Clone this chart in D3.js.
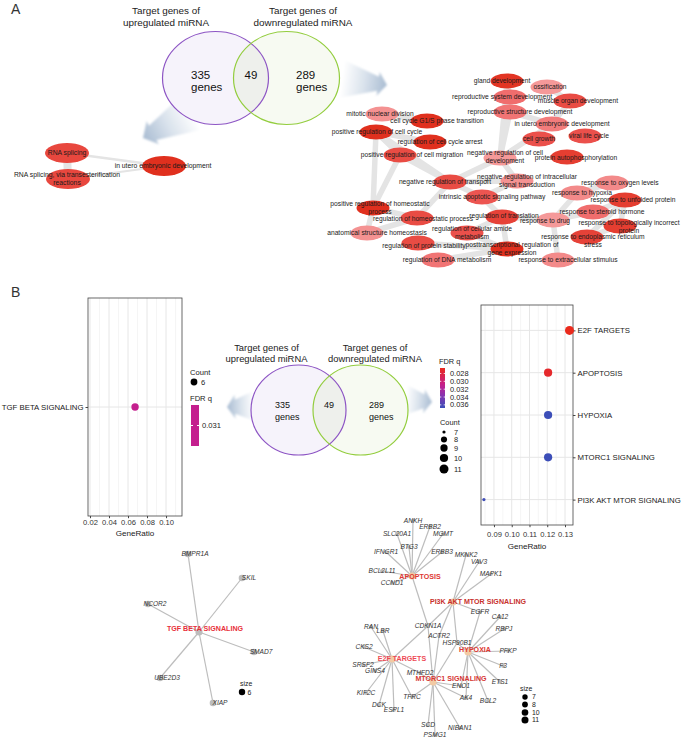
<!DOCTYPE html>
<html><head><meta charset="utf-8">
<script src="https://cdn.jsdelivr.net/npm/d3@7"></script>
<style>body{margin:0;background:#fff}svg{display:block}</style>
</head><body><script>
// ---------------- DATA ----------------
const vennTitleUp = ["Target genes of", "upregulated miRNA"];
const vennTitleDown = ["Target genes of", "downregulated miRNA"];
const vennCounts = [335, 49, 289];

// Panel A enrichment-map networks (layout units relative to each panel origin)
const aLeftNodes = [
  // name, x, y, labelX, labelY, score
  ["RNA splicing", 67, 43, 67, 43, 0.75],
  ["RNA splicing, via transesterification\nreactions", 68, 69, 67, 68.5, 0.75],
  ["in utero embryonic development", 164, 56, 163, 56, 1.0]
];
const aLeftEdges = [[0, 1, 8], [0, 2, 2.5], [1, 2, 2]];

const aRightNodes = [
  ["gland development", 207, 46, 202, 46, 0.95],
  ["ossification", 247, 52, 250, 52, 0.1],
  ["reproductive system development", 210, 62, 202, 62, 0.4],
  ["muscle organ development", 270, 66, 278, 66, 0.7],
  ["reproductive structure development", 210, 77, 220, 77, 0.35],
  ["in utero embryonic development", 252, 89, 262, 89, 0.3],
  ["cell growth", 239, 104, 239, 104, 0.65],
  ["viral life cycle", 285, 101, 289, 101, 0.65],
  ["mitotic nuclear division", 82, 79, 80, 79, 0.15],
  ["cell cycle G1/S phase transition", 127, 86, 137, 86, 1.0],
  ["positive regulation of cell cycle", 76, 97, 77, 97, 1.0],
  ["regulation of cell cycle arrest", 130, 107, 140, 107, 1.0],
  ["positive regulation of cell migration", 100, 120, 112, 120, 0.7],
  ["negative regulation of cell\ndevelopment", 200, 123, 205, 122, 0.1],
  ["protein autophosphorylation", 267, 122, 276, 123, 0.85],
  ["negative regulation of transport", 150, 147, 145, 147, 0.7],
  ["negative regulation of intracellular\nsignal transduction", 217, 146, 227, 145.5, 0.15],
  ["intrinsic apoptotic signaling pathway", 182, 162, 192, 162, 0.6],
  ["response to oxygen levels", 312, 148, 320, 148, 0.2],
  ["response to hypoxia", 277, 158, 282, 158, 0.2],
  ["response to unfolded protein", 325, 165, 333, 165, 0.85],
  ["positive regulation of homeostatic\nprocess", 73, 173, 80, 173, 1.0],
  ["response to steroid hormone", 293, 177, 302, 177, 0.4],
  ["regulation of translation", 202, 182, 204, 180.5, 0.8],
  ["regulation of homeostatic process", 117, 183, 123, 184, 0.7],
  ["response to drug", 253, 185, 245, 186, 0.1],
  ["response to topologically incorrect\nprotein", 320, 191, 329, 192, 0.85],
  ["anatomical structure homeostasis", 67, 198, 77, 198, 0.15],
  ["regulation of cellular amide\nmetabolism", 167, 198, 172, 198, 0.65],
  ["response to endoplasmic reticulum\nstress", 287, 202, 293, 206, 0.8],
  ["regulation of protein stability", 118, 208, 124, 211, 0.7],
  ["posttranscriptional regulation of\ngene expression", 207, 214, 212, 214, 1.0],
  ["regulation of DNA metabolism", 138, 225, 147, 225, 0.35],
  ["response to extracellular stimulus", 258, 225, 268, 225, 0.2]
];
const aRightEdges = [
  [0,2],[2,4],[1,3],[3,5],[4,5],[0,4],[13,4],[13,2],[13,0],[13,5],
  [8,9],[10,11],[10,21],[10,12],[10,15],[12,15],[12,21],[15,16],[13,16],[13,15],
  [15,17],[16,17],[21,24],[21,27],[24,27],[24,15],[23,28],[23,31],[28,31],[30,31],
  [19,18],[20,26],[26,29],[20,29],[25,22],[19,25],[23,25],[33,25],[22,20],[32,31],[17,23]
];

// Panel B dot plots
const upTerms = ["TGF BETA SIGNALING"];
const upRatio = [6 / 89];
const upFDR = [0.031];
const upCount = [6];
const upTicks = [0.02, 0.04, 0.06, 0.08, 0.10];
const upFdrTicks = [0.031];

const downTerms = ["E2F TARGETS", "APOPTOSIS", "HYPOXIA", "MTORC1 SIGNALING", "PI3K AKT MTOR SIGNALING"];
const downRatio = [11 / 83, 10 / 83, 10 / 83, 10 / 83, 7 / 83];
const downFDR = [0.0266, 0.0272, 0.0367, 0.0367, 0.0366];
const downCount = [11, 10, 10, 10, 7];
const downTicks = [0.09, 0.10, 0.11, 0.12, 0.13];
const downFdrTicks = [0.028, 0.030, 0.032, 0.034, 0.036];
const downCountTicks = [7, 8, 9, 10, 11];

// Panel B gene-concept networks
const tgfCategory = ["TGF BETA SIGNALING", 99, 92, 105, 89, "#e8303a"];
const tgfGenes = [
  ["BMPR1A", 88, 14], ["SKIL", 142, 38], ["NCOR2", 48, 64],
  ["SMAD7", 154, 112], ["UBE2D3", 60, 138], ["XIAP", 113, 163]
];
const downCategories = [
  // name, nodeX, nodeY, labelX, labelY, colour
  ["APOPTOSIS", 92, 76, 100, 77, "#dd3832"],
  ["PI3K AKT MTOR SIGNALING", 133, 102, 158, 102, "#c8312d"],
  ["E2F TARGETS", 72, 159, 82, 159, "#ee4a55"],
  ["HYPOXIA", 148, 152, 155, 150, "#dd3832"],
  ["MTORC1 SIGNALING", 113, 182, 131, 179, "#d63633"]
];
const downGenes = [
  ["ANKH", 93, 20.5, [0]], ["ERBB2", 110, 26.5, [0]], ["SLC20A1", 77, 34, [0]], ["MGMT", 123, 34, [0]],
  ["BTG3", 89, 47, [0]], ["IFNGR1", 66, 52, [0]], ["ERBB3", 122, 52, [0]], ["BCL2L11", 62, 71, [0]],
  ["CCND1", 72, 83, [0]], ["CDKN1A", 108, 126, [0, 1, 2, 4]],
  ["MKNK2", 146, 55, [1]], ["VAV3", 159, 62, [1]], ["MAPK1", 171, 74, [1]],
  ["EGFR", 160, 112, [1, 3]], ["ACTR2", 119, 136, [1, 4]], ["HSP90B1", 137, 143, [1, 3, 4]],
  ["RAN", 51, 127, [2]], ["LBR", 63, 131, [2]], ["CKS2", 44, 147, [2]], ["SRSF2", 43, 165, [2]],
  ["GINS4", 55, 171, [2]], ["KIF2C", 46, 193, [2]], ["DCK", 59, 205, [2]], ["ESPL1", 74, 210, [2]],
  ["TFRC", 92, 197, [2, 4]], ["MTHFD2", 100, 173, [2, 4]],
  ["CA12", 180, 117, [3]], ["RBPJ", 184, 129, [3]], ["PFKP", 188, 151, [3]], ["F3", 183, 166, [3]],
  ["ETS1", 180, 182, [3]], ["BCL2", 168, 201, [3]], ["ENO1", 141, 186, [3, 4]], ["AK4", 146, 198, [3, 4]],
  ["SCD", 108, 225, [4]], ["PSMG1", 115, 235, [4]], ["NIBAN1", 140, 228, [4]]
];
const netSizeTicks = [7, 8, 10, 11];

// ---------------- SETUP ----------------
const W = 685, H = 738;
const FONT = '"Liberation Sans", Arial, Helvetica, sans-serif';
const svg = d3.select("body").append("svg").attr("width", W).attr("height", H)
  .style("font-family", FONT);
const defs = svg.append("defs");
defs.append("filter").attr("id", "blur").attr("x", "-20%").attr("y", "-20%").attr("width", "140%").attr("height", "140%")
  .append("feGaussianBlur").attr("stdDeviation", 1.3);

function multiText(g, x, y, str, size) {
  const lines = str.split("\n");
  const t = g.append("text").attr("x", x).attr("y", y).attr("font-size", size)
    .attr("text-anchor", "middle").attr("fill", "#1a1a1a");
  const off = 0.35 - (lines.length - 1) * 0.6;
  lines.forEach((l, i) => t.append("tspan").attr("x", x)
    .attr("dy", i === 0 ? off + "em" : "1.2em").text(l));
  return t;
}

function arrow(id, x1, y1, x2, y2, tailHW, neckHW, headHW, headLen) {
  const dx = x2 - x1, dy = y2 - y1, L = Math.hypot(dx, dy);
  const ux = dx / L, uy = dy / L, px = -uy, py = ux;
  const gr = defs.append("linearGradient").attr("id", id).attr("gradientUnits", "userSpaceOnUse")
    .attr("x1", x1).attr("y1", y1).attr("x2", x2).attr("y2", y2);
  gr.append("stop").attr("offset", 0).attr("stop-color", "#ffffff");
  gr.append("stop").attr("offset", 0.5).attr("stop-color", "#d9e2ec");
  gr.append("stop").attr("offset", 1).attr("stop-color", "#a9bcd2");
  const nx = x2 - ux * headLen, ny = y2 - uy * headLen;
  const pts = [[x1 + px * tailHW, y1 + py * tailHW], [nx + px * neckHW, ny + py * neckHW],
    [nx + px * headHW, ny + py * headHW], [x2, y2], [nx - px * headHW, ny - py * headHW],
    [nx - px * neckHW, ny - py * neckHW], [x1 - px * tailHW, y1 - py * tailHW]];
  svg.append("path").attr("d", d3.line().curve(d3.curveLinearClosed)(pts))
    .attr("fill", `url(#${id})`).attr("filter", "url(#blur)");
}

function venn(id, cxL, cxR, cy, rx, ry, titleFs, titleY, titleX, numFs, numX, numY) {
  const g = svg.append("g");
  defs.append("clipPath").attr("id", id).append("ellipse")
    .attr("cx", cxL).attr("cy", cy).attr("rx", rx).attr("ry", ry);
  g.append("ellipse").attr("cx", cxL).attr("cy", cy).attr("rx", rx).attr("ry", ry).attr("fill", "#f6f3fb");
  g.append("ellipse").attr("cx", cxR).attr("cy", cy).attr("rx", rx).attr("ry", ry).attr("fill", "#f7faf2");
  g.append("ellipse").attr("cx", cxR).attr("cy", cy).attr("rx", rx).attr("ry", ry)
    .attr("fill", "#eef0ec").attr("clip-path", `url(#${id})`);
  g.append("ellipse").attr("cx", cxL).attr("cy", cy).attr("rx", rx).attr("ry", ry)
    .attr("fill", "none").attr("stroke", "#8d55c4").attr("stroke-width", 1.2);
  g.append("ellipse").attr("cx", cxR).attr("cy", cy).attr("rx", rx).attr("ry", ry)
    .attr("fill", "none").attr("stroke", "#93cd3e").attr("stroke-width", 1.2);
  [vennTitleUp, vennTitleDown].forEach((t, k) => {
    t.forEach((line, i) => g.append("text").attr("x", titleX[k]).attr("y", titleY[i])
      .attr("dy", "0.35em").attr("text-anchor", "middle").attr("font-size", titleFs)
      .attr("fill", "#222").text(line));
  });
  [[vennCounts[0], numX[0]], [vennCounts[2], numX[2]]].forEach(([v, x]) => {
    g.append("text").attr("x", x).attr("y", numY[0]).attr("dy", "0.35em").attr("font-size", numFs).attr("fill", "#111").text(v);
    g.append("text").attr("x", x).attr("y", numY[1]).attr("dy", "0.35em").attr("font-size", numFs).attr("fill", "#111").text("genes");
  });
  g.append("text").attr("x", numX[1]).attr("y", numY[0]).attr("dy", "0.35em").attr("text-anchor", "middle")
    .attr("font-size", numFs).attr("fill", "#111").text(vennCounts[1]);
}

// ---------------- PANEL LABELS ----------------
svg.append("text").attr("x", 11).attr("y", 14).attr("font-size", 14).attr("fill", "#333").text("A");
svg.append("text").attr("x", 11).attr("y", 297).attr("font-size", 14).attr("fill", "#333").text("B");

// ---------------- PANEL A ----------------
arrow("arA1", 192, 112, 143, 138, 20, 8, 13, 11);
arrow("arA2", 342, 79, 387, 85, 19, 7, 12, 9);
venn("clipA", 215.5, 286.5, 78, 53, 46.5, 9.9, [11, 23], [166, 303], 11.5, [191, 251, 296], [75, 87]);

const nodeColor = d3.scaleLinear().domain([0, 0.5, 1]).range(["#f6a8a8", "#ef5e5e", "#e0301e"]);

function enrichNet(nodes, edges, ox, oy, w, h, rx, ry, fs, edgeW) {
  const xs = d3.scaleLinear().domain([0, w]).range([ox, ox + w]);
  const ys = d3.scaleLinear().domain([0, h]).range([oy, oy + h]);
  const g = svg.append("g");
  g.selectAll("line.e").data(edges).join("line")
    .attr("x1", d => xs(nodes[d[0]][1])).attr("y1", d => ys(nodes[d[0]][2]))
    .attr("x2", d => xs(nodes[d[1]][1])).attr("y2", d => ys(nodes[d[1]][2]))
    .attr("stroke", "#e4e4e4").attr("stroke-linecap", "round")
    .attr("stroke-width", d => d[2] || edgeW);
  g.selectAll("ellipse").data(nodes).join("ellipse")
    .attr("cx", d => xs(d[1])).attr("cy", d => ys(d[2])).attr("rx", rx).attr("ry", ry)
    .attr("fill", d => nodeColor(d[5]));
  nodes.forEach(d => multiText(g, xs(d[3]), ys(d[4]), d[0], fs));
}
enrichNet(aLeftNodes, aLeftEdges, 0, 110, 280, 100, 22, 10, 6.8, 2);
enrichNet(aRightNodes, aRightEdges, 300, 35, 385, 240, 16.5, 7.5, 6.7, 5.5);

// ---------------- PANEL B: Venn + arrows ----------------
arrow("arB1", 254, 406, 227, 407, 15, 7, 12, 8);
arrow("arB2", 406, 400, 432, 402, 15, 7, 12, 8);
venn("clipB", 298.5, 360.5, 410, 47.5, 45, 9.4, [348, 359], [266.5, 375], 9, [275, 329, 369], [405, 417]);

// ---------------- PANEL B: dot plots ----------------
const fdrColor = d3.scaleLinear().domain([0.0266, 0.031, 0.0335, 0.0368])
  .range(["#ea2a1c", "#c41f8e", "#8a34b0", "#3a4fb8"]);

function dotPlot(cfg) {
  const { terms, ratio, fdr, count, x0, x1, y0, y1, dom, ticks, side, rFn } = cfg;
  const g = svg.append("g");
  const x = d3.scaleLinear().domain(dom).range([x0, x1]);
  const y = d3.scalePoint().domain(terms).range([y0, y1]).padding(terms.length > 1 ? 0.6 : 0.5);
  const step = ticks[1] - ticks[0];
  const minor = d3.range(ticks[0] - step / 2, dom[1], step).filter(v => v > dom[0] && v < dom[1]);
  g.append("rect").attr("x", x0).attr("y", y0).attr("width", x1 - x0).attr("height", y1 - y0).attr("fill", "#fff");
  g.selectAll("line.mi").data(minor).join("line").attr("class", "mi").attr("x1", d => x(d)).attr("x2", d => x(d))
    .attr("y1", y0).attr("y2", y1).attr("stroke", "#f1f1f1").attr("stroke-width", 0.7);
  g.selectAll("line.ma").data(ticks).join("line").attr("class", "ma").attr("x1", d => x(d)).attr("x2", d => x(d))
    .attr("y1", y0).attr("y2", y1).attr("stroke", "#e6e6e6").attr("stroke-width", 1);
  g.selectAll("line.h").data(terms).join("line").attr("class", "h").attr("x1", x0).attr("x2", x1)
    .attr("y1", d => y(d)).attr("y2", d => y(d)).attr("stroke", "#e6e6e6").attr("stroke-width", 1);
  g.append("rect").attr("x", x0).attr("y", y0).attr("width", x1 - x0).attr("height", y1 - y0)
    .attr("fill", "none").attr("stroke", "#444").attr("stroke-width", 0.8);
  const ax = g.append("g").attr("transform", `translate(0,${y1})`)
    .call(d3.axisBottom(x).tickValues(ticks).tickSize(2.2).tickPadding(cfg.tickPad).tickFormat(d3.format(".2f")));
  ax.select(".domain").remove();
  ax.selectAll("line").attr("stroke", "#444");
  ax.selectAll("text").attr("font-size", 7.6).attr("fill", "#333").style("font-family", FONT);
  g.append("text").attr("x", (x0 + x1) / 2).attr("y", y1 + cfg.titleDy).attr("text-anchor", "middle")
    .attr("font-size", 8.1).attr("fill", "#222").text("GeneRatio");
  const ay = g.append("g").attr("transform", `translate(${side === "left" ? x0 : x1},0)`)
    .call((side === "left" ? d3.axisLeft(y) : d3.axisRight(y)).tickSize(2.5).tickPadding(2));
  ay.select(".domain").remove();
  ay.selectAll("line").attr("stroke", "#444");
  ay.selectAll("text").attr("font-size", 7.8).attr("fill", "#222").style("font-family", FONT);
  g.selectAll("circle").data(terms).join("circle")
    .attr("cx", (d, i) => x(ratio[i])).attr("cy", d => y(d))
    .attr("r", (d, i) => rFn(count[i])).attr("fill", (d, i) => fdrColor(fdr[i]));
}

const downR = c => d3.scaleLinear().domain([0, 1]).range([1.6, 4.5])(Math.sqrt((c - 7) / 4));
dotPlot({ terms: upTerms, ratio: upRatio, fdr: upFDR, count: upCount, x0: 88, x1: 182, y0: 298, y1: 516,
  dom: [0.0179, 0.1168], ticks: upTicks, side: "left", rFn: () => 3.7, titleDy: 20, tickPad: 1.2 });
dotPlot({ terms: downTerms, ratio: downRatio, fdr: downFDR, count: downCount, x0: 481, x1: 573, y0: 305, y1: 525,
  dom: [0.0827, 0.1345], ticks: downTicks, side: "right", rFn: downR, titleDy: 24, tickPad: 4 });

// left legend
{
  const g = svg.append("g").attr("font-size", 7.6).attr("fill", "#222");
  g.append("text").attr("x", 190).attr("y", 372).attr("dy", "0.35em").text("Count");
  g.append("circle").attr("cx", 194).attr("cy", 382).attr("r", 3.4).attr("fill", "#000");
  g.append("text").attr("x", 201).attr("y", 382).attr("dy", "0.35em").text(upCount[0]);
  g.append("text").attr("x", 190).attr("y", 398).attr("dy", "0.35em").text("FDR q");
  const cb = d3.scaleLinear().domain([0.0305, 0.0315]).range([446, 405]);
  g.append("rect").attr("x", 191).attr("y", cb(0.0315)).attr("width", 8).attr("height", cb(0.0305) - cb(0.0315))
    .attr("fill", fdrColor(upFDR[0]));
  upFdrTicks.forEach(t => {
    g.append("line").attr("x1", 191).attr("x2", 193).attr("y1", cb(t)).attr("y2", cb(t)).attr("stroke", "#fff");
    g.append("line").attr("x1", 197).attr("x2", 199).attr("y1", cb(t)).attr("y2", cb(t)).attr("stroke", "#fff");
    g.append("text").attr("x", 202).attr("y", cb(t)).attr("dy", "0.35em").text(d3.format(".3f")(t));
  });
}
// right legend
{
  const g = svg.append("g").attr("font-size", 7.4).attr("fill", "#222");
  g.append("text").attr("x", 439).attr("y", 361).attr("dy", "0.35em").text("FDR q");
  const cb = d3.scaleLinear().domain([0.0266, 0.0368]).range([368, 408]);
  const gr = defs.append("linearGradient").attr("id", "fdrgrad").attr("x1", 0).attr("y1", 0).attr("x2", 0).attr("y2", 1);
  d3.range(0, 1.0001, 0.1).forEach(t => gr.append("stop").attr("offset", t)
    .attr("stop-color", fdrColor(cb.domain()[0] + t * (cb.domain()[1] - cb.domain()[0]))));
  g.append("rect").attr("x", 440).attr("y", 368).attr("width", 5).attr("height", 40).attr("fill", "url(#fdrgrad)");
  downFdrTicks.forEach(t => {
    g.append("line").attr("x1", 440).attr("x2", 441.3).attr("y1", cb(t)).attr("y2", cb(t)).attr("stroke", "#fff").attr("stroke-width", 0.8);
    g.append("line").attr("x1", 443.7).attr("x2", 445).attr("y1", cb(t)).attr("y2", cb(t)).attr("stroke", "#fff").attr("stroke-width", 0.8);
    g.append("text").attr("x", 450).attr("y", cb(t)).attr("dy", "0.35em").text(d3.format(".3f")(t));
  });
  g.append("text").attr("x", 440).attr("y", 422).attr("dy", "0.35em").text("Count");
  const cyPos = [432, 439.5, 448, 458, 469];
  downCountTicks.forEach((c, i) => {
    g.append("circle").attr("cx", 444).attr("cy", cyPos[i]).attr("r", downR(c)).attr("fill", "#000");
    g.append("text").attr("x", 454).attr("y", cyPos[i]).attr("dy", "0.35em").text(c);
  });
}

// ---------------- PANEL B: gene-concept networks ----------------
function geneNet(cats, genes, ox, oy, w, h, geneLabelDx, geneR, catFill) {
  const xs = d3.scaleLinear().domain([0, w]).range([ox, ox + w]);
  const ys = d3.scaleLinear().domain([0, h]).range([oy, oy + h]);
  const g = svg.append("g");
  const links = [];
  genes.forEach(gn => gn[3].forEach(ci => links.push([gn, cats[ci]])));
  g.selectAll("line").data(links).join("line")
    .attr("x1", d => xs(d[0][1])).attr("y1", d => ys(d[0][2]))
    .attr("x2", d => xs(d[1][1])).attr("y2", d => ys(d[1][2]))
    .attr("stroke", "#bdbdbd").attr("stroke-width", 1.2);
  g.selectAll("circle.c").data(cats).join("circle").attr("class", "c").attr("cx", d => xs(d[1])).attr("cy", d => ys(d[2]))
    .attr("r", 3.6).attr("fill", catFill);
  g.selectAll("circle.g").data(genes).join("circle").attr("class", "g").attr("cx", d => xs(d[1])).attr("cy", d => ys(d[2]))
    .attr("r", geneR).attr("fill", "#bdbdbd");
  g.selectAll("text.g").data(genes).join("text").attr("class", "g").attr("x", d => xs(d[1]) + geneLabelDx).attr("y", d => ys(d[2]))
    .attr("dy", "0.35em").attr("text-anchor", "middle").attr("font-size", 6.6).attr("font-style", "italic")
    .attr("fill", "#333").text(d => d[0]);
  g.selectAll("text.c").data(cats).join("text").attr("class", "c").attr("x", d => xs(d[3])).attr("y", d => ys(d[4]))
    .attr("dy", "0.35em").attr("text-anchor", "middle").attr("font-size", 7.1).attr("font-weight", "bold")
    .attr("fill", d => d[5]).text(d => d[0]);
}
geneNet([tgfCategory], tgfGenes.map(d => [...d, [0]]), 100, 540, 220, 190, 7, 3.3, "#bdbdbd");
geneNet(downCategories, downGenes, 320, 500, 250, 238, 0, 2, "#f2caa4");

// size legends
{
  const g = svg.append("g").attr("font-size", 6.9).attr("fill", "#222");
  g.append("text").attr("x", 240).attr("y", 683.5).attr("dy", "0.35em").text("size");
  g.append("circle").attr("cx", 242).attr("cy", 692).attr("r", 3.2).attr("fill", "#000");
  g.append("text").attr("x", 247.5).attr("y", 692.5).attr("dy", "0.35em").text(upCount[0]);

  g.append("text").attr("x", 520).attr("y", 688.5).attr("dy", "0.35em").text("size");
  const sy = [697, 704.5, 712.5, 720];
  const sr = d3.scaleLinear().domain([7, 11]).range([2.7, 3.5]);
  netSizeTicks.forEach((c, i) => {
    g.append("circle").attr("cx", 525).attr("cy", sy[i]).attr("r", sr(c)).attr("fill", "#000");
    g.append("text").attr("x", 532).attr("y", sy[i]).attr("dy", "0.35em").text(c);
  });
}
</script></body></html>
